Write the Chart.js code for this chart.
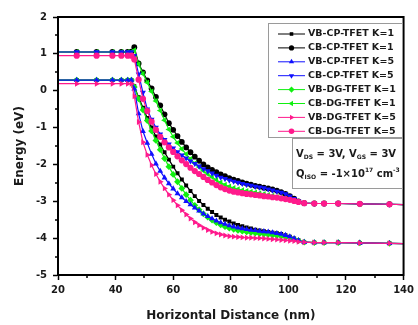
<!DOCTYPE html>
<html>
<head>
<meta charset="utf-8">
<script src="https://cdn.jsdelivr.net/npm/chart.js@4"></script>
<style>
  html, body { margin: 0; padding: 0; background: #fff; }
  #chart { display: block; }
</style>
</head>
<body>
<canvas id="chart" width="418" height="325"></canvas>
<script>

// position along the channel (nm), mesh is fine across the junction region
var distance = [20, 26.5, 33.4, 38.9, 42, 44.2, 45.5,
	46.5, 48, 49.5, 51, 52.5, 54, 55.5, 57, 58.5, 60,
	61.5, 63, 64.5, 66, 67.5, 69, 70.5, 72, 73.5, 75,
	76.5, 78, 79.5, 81, 82.5, 84, 85.5, 87, 88.5, 90,
	91.5, 93, 94.5, 96, 97.5, 99, 100.5, 102, 103.5,
	105.5, 109, 112.4, 117.3, 124.8, 135.1, 140];

var vbCpK1 = [0.29, 0.29, 0.29, 0.29, 0.29, 0.29, 0.29,
	0.12, -0.18, -0.46, -0.74, -1.00, -1.24, -1.46, -1.67, -1.87, -2.06,
	-2.24, -2.41, -2.57, -2.72, -2.86, -2.99, -3.10, -3.20, -3.29, -3.37,
	-3.44, -3.50, -3.55, -3.60, -3.64, -3.68, -3.71, -3.74, -3.77, -3.79,
	-3.81, -3.83, -3.85, -3.87, -3.89, -3.92, -3.96, -4.01, -4.06,
	-4.11, -4.12, -4.12, -4.12, -4.13, -4.14, -4.15];

var cbCpK1 = [1.05, 1.05, 1.05, 1.05, 1.05, 1.05, 1.06,
	1.18, 0.74, 0.50, 0.28, 0.06, -0.17, -0.40, -0.64, -0.88, -1.06,
	-1.23, -1.39, -1.54, -1.67, -1.79, -1.90, -2.00, -2.08, -2.15, -2.21,
	-2.27, -2.32, -2.37, -2.41, -2.45, -2.49, -2.52, -2.55, -2.58, -2.60,
	-2.63, -2.65, -2.68, -2.71, -2.75, -2.80, -2.86, -2.93, -3.00,
	-3.05, -3.06, -3.06, -3.06, -3.07, -3.08, -3.09];

var vbCpK5 = [0.29, 0.29, 0.29, 0.29, 0.29, 0.29, 0.29,
	0.05, -0.62, -1.10, -1.42, -1.72, -1.98, -2.18, -2.36, -2.52, -2.66,
	-2.79, -2.90, -3.00, -3.09, -3.18, -3.26, -3.34, -3.41, -3.47, -3.53,
	-3.58, -3.62, -3.66, -3.69, -3.72, -3.74, -3.76, -3.78, -3.79, -3.81,
	-3.82, -3.83, -3.85, -3.87, -3.89, -3.92, -3.96, -4.01, -4.06,
	-4.11, -4.12, -4.12, -4.12, -4.13, -4.14, -4.15];

var cbCpK5 = [1.05, 1.05, 1.05, 1.05, 1.05, 1.05, 1.05,
	0.95, 0.45, -0.05, -0.50, -0.78, -1.00, -1.18, -1.33, -1.45, -1.56,
	-1.66, -1.75, -1.83, -1.91, -1.98, -2.05, -2.12, -2.18, -2.24, -2.30,
	-2.35, -2.39, -2.43, -2.46, -2.49, -2.52, -2.55, -2.57, -2.60, -2.62,
	-2.64, -2.67, -2.70, -2.73, -2.76, -2.80, -2.86, -2.93, -3.00,
	-3.05, -3.06, -3.06, -3.06, -3.07, -3.08, -3.09];

var vbDgK1 = [0.29, 0.29, 0.29, 0.29, 0.29, 0.29, 0.29,
	0.10, -0.22, -0.52, -0.81, -1.09, -1.35, -1.60, -1.84, -2.06, -2.27,
	-2.47, -2.65, -2.82, -2.97, -3.11, -3.23, -3.34, -3.43, -3.51, -3.58,
	-3.64, -3.69, -3.73, -3.76, -3.79, -3.81, -3.83, -3.85, -3.86, -3.88,
	-3.89, -3.90, -3.92, -3.93, -3.95, -3.97, -3.99, -4.03, -4.07,
	-4.11, -4.12, -4.12, -4.12, -4.13, -4.14, -4.15];

var cbDgK1 = [1.05, 1.05, 1.05, 1.05, 1.05, 1.05, 1.05,
	1.10, 0.72, 0.46, 0.22, -0.02, -0.28, -0.54, -0.80, -1.05, -1.25,
	-1.42, -1.58, -1.72, -1.85, -1.97, -2.07, -2.17, -2.26, -2.34, -2.42,
	-2.49, -2.55, -2.60, -2.64, -2.67, -2.70, -2.72, -2.74, -2.76, -2.78,
	-2.80, -2.83, -2.85, -2.88, -2.90, -2.92, -2.95, -2.98, -3.01,
	-3.05, -3.06, -3.06, -3.06, -3.07, -3.08, -3.09];

var vbDgK5 = [0.19, 0.19, 0.19, 0.19, 0.19, 0.19, 0.19,
	-0.15, -0.85, -1.40, -1.74, -2.02, -2.26, -2.47, -2.65, -2.82, -2.97,
	-3.11, -3.24, -3.36, -3.47, -3.57, -3.65, -3.72, -3.78, -3.83, -3.87,
	-3.90, -3.93, -3.95, -3.96, -3.97, -3.98, -3.99, -3.99, -4.00, -4.00,
	-4.01, -4.02, -4.03, -4.04, -4.05, -4.06, -4.07, -4.08, -4.10,
	-4.11, -4.12, -4.12, -4.12, -4.13, -4.14, -4.15];

var cbDgK5 = [0.95, 0.95, 0.95, 0.95, 0.95, 0.95, 0.95,
	0.85, 0.30, -0.22, -0.55, -0.84, -1.06, -1.25, -1.40, -1.54, -1.66,
	-1.78, -1.89, -1.99, -2.09, -2.18, -2.26, -2.34, -2.42, -2.49, -2.56,
	-2.62, -2.67, -2.71, -2.74, -2.76, -2.78, -2.80, -2.81, -2.83, -2.84,
	-2.86, -2.87, -2.89, -2.90, -2.92, -2.94, -2.96, -2.99, -3.02,
	-3.05, -3.06, -3.06, -3.06, -3.07, -3.08, -3.09];

var seriesNames = ['VB-CP-TFET K=1', 'CB-CP-TFET K=1', 'VB-CP-TFET K=5', 'CB-CP-TFET K=5',
	'VB-DG-TFET K=1', 'CB-DG-TFET K=1', 'VB-DG-TFET K=5', 'CB-DG-TFET K=5'];
var seriesValues = [vbCpK1, cbCpK1, vbCpK5, cbCpK5, vbDgK1, cbDgK1, vbDgK5, cbDgK5];

var xTicks = [20, 40, 60, 80, 100, 120, 140];
var yTicks = [2, 1, 0, -1, -2, -3, -4, -5];

var BLACK = '#000000', BLUE = '#1010ff', GREEN = '#10f010', PINK = '#ff1a8c';
var styles = [
	{ color: BLACK, point: 'rect', rot: 0, r: 2.8 },
	{ color: BLACK, point: 'circle', rot: 0, r: 2.9 },
	{ color: BLUE, point: 'triangle', rot: 0, r: 3.4 },
	{ color: BLUE, point: 'triangle', rot: 180, r: 3.4 },
	{ color: GREEN, point: 'rectRot', rot: 0, r: 3.4 },
	{ color: GREEN, point: 'triangle', rot: 270, r: 3.4 },
	{ color: PINK, point: 'triangle', rot: 90, r: 3.4 },
	{ color: PINK, point: 'circle', rot: 0, r: 3.1 }
];
// black under green under blue under pink
var drawOrder = [4, 4, 2, 2, 3, 3, 1, 1];

var FONT = 'DejaVu Sans';
var TEXT = '#1a1a1a';

var datasets = seriesValues.map(function (vals, i) {
	var st = styles[i];
	return {
		label: seriesNames[i],
		data: distance.map(function (x, j) { return { x: x, y: vals[j] }; }),
		borderColor: st.color,
		backgroundColor: st.color,
		borderWidth: 1.2,
		pointStyle: st.point,
		rotation: st.rot,
		pointBorderWidth: 0,
		pointRadius: function (ctx) {
			var n = distance.length - 1;
			return (ctx.dataIndex === 0 || ctx.dataIndex === n) ? 0 : st.r;
		},
		tension: 0,
		order: drawOrder[i]
	};
});

// frame around the plot area, minor ticks, legend and bias notes
var decorations = {
	id: 'decorations',
	afterDraw: function (chart) {
		var ctx = chart.ctx, a = chart.chartArea;
		var xs = chart.scales.x, ys = chart.scales.y;
		ctx.save();

		// minor ticks
		ctx.strokeStyle = '#000';
		ctx.lineWidth = 1.5;
		ctx.beginPath();
		for (var v = 30; v < 140; v += 20) {
			var px = Math.round(xs.getPixelForValue(v));
			ctx.moveTo(px, a.bottom);
			ctx.lineTo(px, a.bottom + 3);
		}
		for (var w = 1.5; w > -5; w -= 1) {
			var py = Math.round(ys.getPixelForValue(w));
			ctx.moveTo(a.left, py);
			ctx.lineTo(a.left - 3, py);
		}
		ctx.stroke();

		ctx.lineWidth = 2;
		ctx.strokeRect(a.left, a.top, a.right - a.left, a.bottom - a.top);

		// legend box
		var lx = 268, ly = 23, lw = 134, lh = 114;
		ctx.fillStyle = '#fff';
		ctx.fillRect(lx, ly, lw, lh);
		ctx.strokeStyle = '#9a9a9a';
		ctx.lineWidth = 1;
		ctx.strokeRect(lx + 0.5, ly + 0.5, lw, lh);

		ctx.font = 'bold 9.5px "' + FONT + '"';
		ctx.textBaseline = 'middle';
		ctx.textAlign = 'left';
		for (var i = 0; i < seriesNames.length; i++) {
			var st = styles[i];
			var ry = ly + 11 + i * 13.9;
			ctx.strokeStyle = st.color;
			ctx.fillStyle = st.color;
			ctx.lineWidth = 1;
			ctx.beginPath();
			ctx.moveTo(lx + 10, ry);
			ctx.lineTo(lx + 37, ry);
			ctx.stroke();
			Chart.helpers.drawPoint(ctx, { pointStyle: st.point, rotation: st.rot, radius: st.r * 0.9, borderWidth: 0 }, lx + 23.5, ry);
			ctx.fillStyle = TEXT;
			ctx.fillText(seriesNames[i], lx + 40, ry);
		}

		// bias conditions box
		var bx = 292, by = 138, bw = 110, bh = 50;
		ctx.fillStyle = '#fff';
		ctx.fillRect(bx, by, bw, bh);
		ctx.strokeStyle = '#9a9a9a';
		ctx.strokeRect(bx + 0.5, by + 0.5, bw, bh);

		ctx.fillStyle = TEXT;
		ctx.textBaseline = 'alphabetic';
		var big = 'bold 10px "' + FONT + '"', small = 'bold 6px "' + FONT + '"';
		function run(parts, x, y) {
			parts.forEach(function (p) {
				ctx.font = p[1] ? small : big;
				ctx.fillText(p[0], x, y + (p[1] || 0));
				x += ctx.measureText(p[0]).width;
			});
		}
		run([['V'], ['DS', 2], [' = 3V, V'], ['GS', 2], [' = 3V']], bx + 4, by + 19);
		run([['Q'], ['ISO', 2], [' = -1\u00d710'], ['17', -5], [' cm'], ['-3', -5]], bx + 4, by + 39);

		ctx.restore();
	}
};

Chart.defaults.font.family = FONT;
Chart.defaults.font.weight = 'bold';
Chart.defaults.color = TEXT;

var chart = new Chart(document.getElementById('chart').getContext('2d'), {
	type: 'line',
	data: { datasets: datasets },
	options: {
		responsive: false,
		animation: false,
		devicePixelRatio: 1,
		layout: { padding: { left: 0, top: 17, right: 11, bottom: 0 } },
		plugins: { legend: { display: false }, tooltip: { enabled: false } },
		scales: {
			x: {
				type: 'linear',
				min: 20,
				max: 140,
				afterFit: function (s) { s.height = 50; },
				afterBuildTicks: function (s) { s.ticks = xTicks.map(function (v) { return { value: v }; }); },
				ticks: { autoSkip: false, maxRotation: 0, padding: 4, font: { size: 10, weight: 'bold' } },
				grid: { drawOnChartArea: false, tickLength: 5, tickWidth: 1.5, tickColor: '#000' },
				border: { color: '#000', width: 2 },
				title: { display: true, text: 'Horizontal Distance (nm)', font: { size: 12, weight: 'bold' }, padding: { top: 0, bottom: 2 } }
			},
			y: {
				min: -5,
				max: 2,
				afterFit: function (s) { s.width = 58; },
				afterBuildTicks: function (s) { s.ticks = yTicks.map(function (v) { return { value: v }; }); },
				ticks: { autoSkip: false, padding: 6, font: { size: 10, weight: 'bold' } },
				grid: { drawOnChartArea: false, tickLength: 5, tickWidth: 1.5, tickColor: '#000' },
				border: { color: '#000', width: 2 },
				title: { display: true, text: 'Energy (eV)', font: { size: 12, weight: 'bold' }, padding: { top: 13, bottom: 0 } }
			}
		}
	},
	plugins: [decorations]
});
</script>
</body>
</html>
